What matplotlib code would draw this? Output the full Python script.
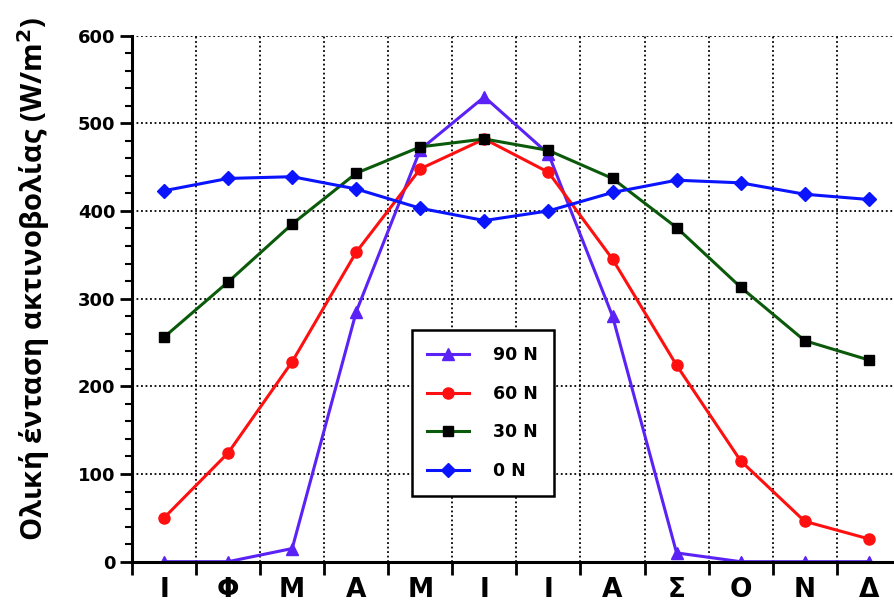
import numpy as np
import matplotlib
matplotlib.use('Agg')
import matplotlib.pyplot as plt
from matplotlib.ticker import MultipleLocator, FixedLocator

months = ['Ι', 'Φ', 'Μ', 'Α', 'Μ', 'Ι', 'Ι', 'Α', 'Σ', 'Ο', 'Ν', 'Δ']
lat_90 = [0, 0, 15, 285, 470, 530, 465, 280, 10, 0, 0, 0]
lat_60 = [50, 124, 228, 353, 448, 482, 444, 345, 224, 115, 46, 26]
lat_30 = [256, 319, 385, 443, 473, 482, 469, 437, 381, 313, 252, 230]
lat_0 = [423, 437, 439, 425, 403, 389, 400, 421, 435, 432, 419, 413]

x = np.arange(1, len(months) + 1)

fig = plt.figure(figsize=(8.95, 6.09), dpi=100)
ax = fig.add_axes([0.1475, 0.0777, 0.859, 0.864])

ax.plot(x, lat_90, color='#5b22f5', lw=2.2, marker='^', ms=8, label='90 N')
ax.plot(x, lat_60, color='#ff1010', lw=2.2, marker='o', ms=8, label='60 N')
ax.plot(x, lat_30, color='#0b5a0b', lw=2.2, marker='s', ms=7,
        mfc='black', mec='black', label='30 N')
ax.plot(x, lat_0, color='#0a14ff', lw=2.2, marker='D', ms=7, label='0 N')

ax.set_xlim(0.5, 12.5)
ax.set_ylim(0, 600)

# ticks at month boundaries, labels at centres
ax.xaxis.set_major_locator(FixedLocator(np.arange(0.5, 13, 1)))
ax.set_xticklabels([])
ax.set_xticks(x, months, minor=True)
ax.tick_params(axis='x', which='major', direction='out', length=9, width=2)
ax.tick_params(axis='x', which='minor', length=0, pad=11)
for lbl in ax.get_xticklabels(minor=True):
    lbl.set_fontsize(19)
    lbl.set_fontweight('bold')

ax.yaxis.set_major_locator(MultipleLocator(100))
ax.yaxis.set_minor_locator(MultipleLocator(20))
ax.tick_params(axis='y', which='major', direction='out', length=9, width=2,
               labelsize=13, pad=3)
ax.tick_params(axis='y', which='minor', direction='out', length=5, width=1.5)
for lbl in ax.get_yticklabels():
    lbl.set_fontweight('bold')

ax.grid(True, which='major', color='black', linestyle=(0, (1, 1.5)), lw=1.3)
ax.set_axisbelow(True)

for s in ['top', 'right']:
    ax.spines[s].set_visible(False)
ax.spines['left'].set_linewidth(2.2)
ax.spines['bottom'].set_linewidth(2.2)

ax.set_ylabel('Ολική ένταση ακτινοβολίας (W/m$^{\\mathbf{2}}$)',
              family=['Open Sans', 'DejaVu Sans'], fontsize=21, fontweight='bold')
ax.yaxis.set_label_coords(-0.104, 0.537)

leg = ax.legend(loc='upper left', bbox_to_anchor=(0.364, 0.44), fancybox=False,
                edgecolor='black', framealpha=1, handlelength=2.4,
                labelspacing=1.2, borderpad=0.9, handletextpad=1.4,
                borderaxespad=0,
                prop={'weight': 'bold', 'size': 12.5})
leg.get_frame().set_linewidth(1.8)

fig.savefig('out.png', dpi=100)
